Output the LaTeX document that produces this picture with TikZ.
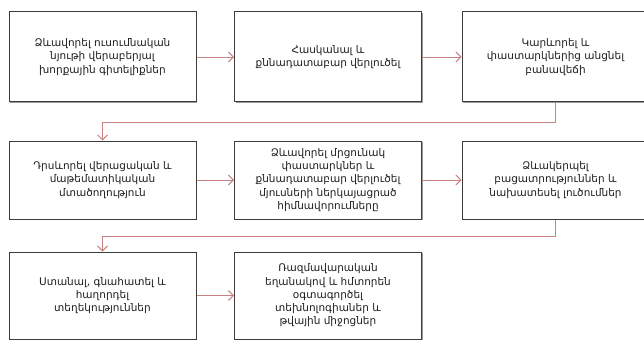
\documentclass[tikz,border=0pt]{standalone}
\usepackage{fontspec}
\setmainfont{DejaVu Sans}
\usepackage{xcolor}
\usepackage{tikz}
\usetikzlibrary{positioning, arrows.meta, shadows}

\definecolor{linkred}{RGB}{200,130,130}
\definecolor{boxline}{RGB}{60,60,60}
\definecolor{boxtext}{RGB}{30,30,30}

\begin{document}
\begin{tikzpicture}[x=1pt, y=-1pt,
    goal/.style={draw=boxline, line width=1pt, fill=white, text=boxtext,
      minimum width=187pt, align=center, inner sep=2pt,
      font=\fontsize{10.5}{13.2}\selectfont,
      drop shadow={shadow xshift=1pt, shadow yshift=-1.2pt, opacity=0.4, fill=black}},
    link/.style={draw=linkred, line width=0.9pt, -{Straight Barb[length=5pt, width=10pt]}}]
      \useasboundingbox (0,0) rectangle (644,342);
      \clip (0,0) rectangle (644,342);

      % First row
      \node[goal, minimum height=90pt] (g1) at (102.5, 57) {Ձևավորել ուսումնական\\նյութի վերաբերյալ\\խորքային գիտելիքներ};
      \node[goal, minimum height=90pt] (g2) at (328, 57) {Հասկանալ և\\քննադատաբար վերլուծել};
      \node[goal, minimum height=90pt] (g3) at (555.5, 57) {Կարևորել և\\փաստարկներից անցնել\\բանավեճի};

      % Second row
      \node[goal, minimum height=78pt] (g4) at (102.5, 180) {Դրսևորել վերացական և\\մաթեմատիկական\\մտածողություն};
      \node[goal, minimum height=78pt] (g5) at (328, 180) {Ձևավորել մրցունակ\\փաստարկներ և\\քննադատաբար վերլուծել\\մյուսների ներկայացրած\\հիմնավորումները};
      \node[goal, minimum height=78pt] (g6) at (555.5, 180) {Ձևակերպել\\բացատրություններ և\\նախատեսել լուծումներ};

      % Third row
      \node[goal, minimum height=87pt] (g7) at (102.5, 295.5) {Ստանալ, գնահատել և\\հաղորդել\\տեղեկություններ};
      \node[goal, minimum height=87pt] (g8) at (328, 295.5) {Ռազմավարական\\եղանակով և հմտորեն\\օգտագործել\\տեխնոլոգիաներ և\\թվային միջոցներ};

      % Arrows inside the rows
      \draw[link] (g1) -- (g2);
      \draw[link] (g2) -- (g3);
      \draw[link] (g4) -- (g5);
      \draw[link] (g5) -- (g6);
      \draw[link] (g7) -- (g8);

      % Arrows between the rows
      \draw[link] (g3.south) -- ++(0,20) -| (g4.north);
      \draw[link] (g6.south) -- ++(0,17) -| (g7.north);
\end{tikzpicture}
\end{document}
